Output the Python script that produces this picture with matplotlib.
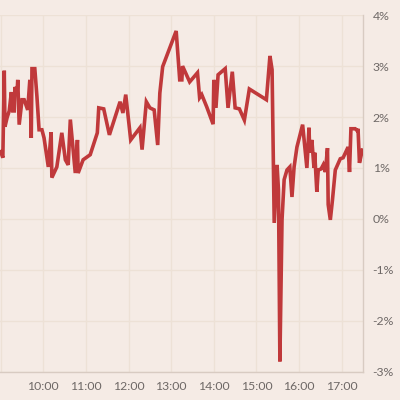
import matplotlib
matplotlib.use("Agg")
import matplotlib.pyplot as plt
from matplotlib.ticker import FuncFormatter
import pandas as pd

# intraday % change
times = [
    "09:00", "09:03", "09:05", "09:06", "09:09", "09:12", "09:15", "09:17", "09:19", "09:20",
    "09:23", "09:24", "09:26", "09:30", "09:33", "09:38", "09:41", "09:43", "09:44", "09:48",
    "09:51", "09:54", "09:58", "10:01", "10:07", "10:11", "10:12", "10:19", "10:26", "10:31",
    "10:35", "10:38", "10:45", "10:48", "10:49", "10:56", "11:06", "11:16", "11:18", "11:25",
    "11:33", "11:48", "11:52", "11:56", "12:03", "12:16", "12:19", "12:25", "12:30", "12:36",
    "12:41", "12:44", "12:48", "13:07", "13:12", "13:15", "13:16", "13:26", "13:37", "13:40",
    "13:43", "13:50", "13:59", "14:00", "14:03", "14:06", "14:16", "14:20", "14:26", "14:30",
    "14:36", "14:43", "14:50", "15:14", "15:19", "15:22", "15:25", "15:29", "15:31", "15:33",
    "15:36", "15:39", "15:43", "15:47", "15:50", "15:53", "15:57", "16:05", "16:11", "16:14",
    "16:15", "16:18", "16:21", "16:22", "16:25", "16:27", "16:31", "16:34", "16:37", "16:40",
    "16:41", "16:44", "16:47", "16:51", "16:58", "17:02", "17:09", "17:11", "17:13", "17:19",
    "17:22", "17:23", "17:25", "17:29",
]
change = [
    1.32, 1.20, 2.91, 1.81, 1.99, 2.12, 2.49, 2.12, 2.12, 2.59,
    2.48, 2.73, 1.85, 2.34, 2.34, 2.14, 2.73, 1.59, 2.95, 2.95,
    2.40, 1.75, 1.75, 1.59, 1.02, 1.70, 0.81, 1.02, 1.69, 1.16,
    1.06, 1.95, 0.90, 1.55, 0.90, 1.16, 1.26, 1.69, 2.18, 2.16,
    1.65, 2.30, 2.08, 2.44, 1.55, 1.79, 1.36, 2.30, 2.18, 2.14,
    1.45, 2.47, 2.99, 3.69, 2.73, 2.73, 3.00, 2.69, 2.87, 2.38,
    2.44, 2.20, 1.86, 2.73, 2.18, 2.83, 2.95, 2.18, 2.89, 2.18,
    2.16, 1.94, 2.55, 2.34, 3.20, 2.93, -0.08, 1.06, 0.57, -2.80,
    -0.02, 0.77, 0.96, 1.02, 0.43, 1.02, 1.41, 1.85, 1.00, 1.79,
    1.30, 1.55, 1.00, 1.30, 0.53, 0.96, 0.98, 1.06, 0.92, 1.39,
    0.28, -0.02, 0.37, 0.96, 1.18, 1.20, 1.41, 0.92, 1.77, 1.77,
    1.73, 1.77, 1.10, 1.35,
]
hour_labels = ["10:00", "11:00", "12:00", "13:00", "14:00", "15:00", "16:00", "17:00"]
pct_ticks = [-3, -2, -1, 0, 1, 2, 3, 4]

bg = "#f5ebe5"
grid_c = "#ede1d6"
text_c = "#6e6866"

day = "2020-01-02 "
t = pd.to_datetime([day + s for s in times])

fig = plt.figure(figsize=(4, 4), dpi=100, facecolor=bg)
ax = fig.add_axes([0.0, 0.071, 0.9075, 0.891])
ax.set_facecolor(bg)

ax.plot(t, change, color="#c0393b", lw=2.6, solid_joinstyle="miter", zorder=3)

ax.set_xlim(pd.Timestamp(day + "08:59"), pd.Timestamp(day + "17:30"))
ax.set_ylim(-3, 4)

hour_grid = pd.to_datetime([day + "09:00"] + [day + h for h in hour_labels])
ax.set_xticks(hour_grid)
ax.set_xticklabels([""] + hour_labels)
ax.set_yticks(pct_ticks)
ax.yaxis.set_major_formatter(FuncFormatter(lambda v, p: f"{int(v)}%"))
ax.yaxis.tick_right()

ax.grid(True, color=grid_c, lw=1)
ax.set_axisbelow(True)
for s in ["top", "left"]:
    ax.spines[s].set_visible(False)
for s in ["bottom", "right"]:
    ax.spines[s].set_color("#d8cbc2")
    ax.spines[s].set_linewidth(1)

ax.tick_params(axis="both", length=0, colors=text_c, labelsize=8.8)
ax.tick_params(axis="x", pad=7)
ax.tick_params(axis="y", pad=7)
for lab in ax.get_xticklabels() + ax.get_yticklabels():
    lab.set_family("Lato")

fig.savefig("out.png", dpi=100, facecolor=bg)
